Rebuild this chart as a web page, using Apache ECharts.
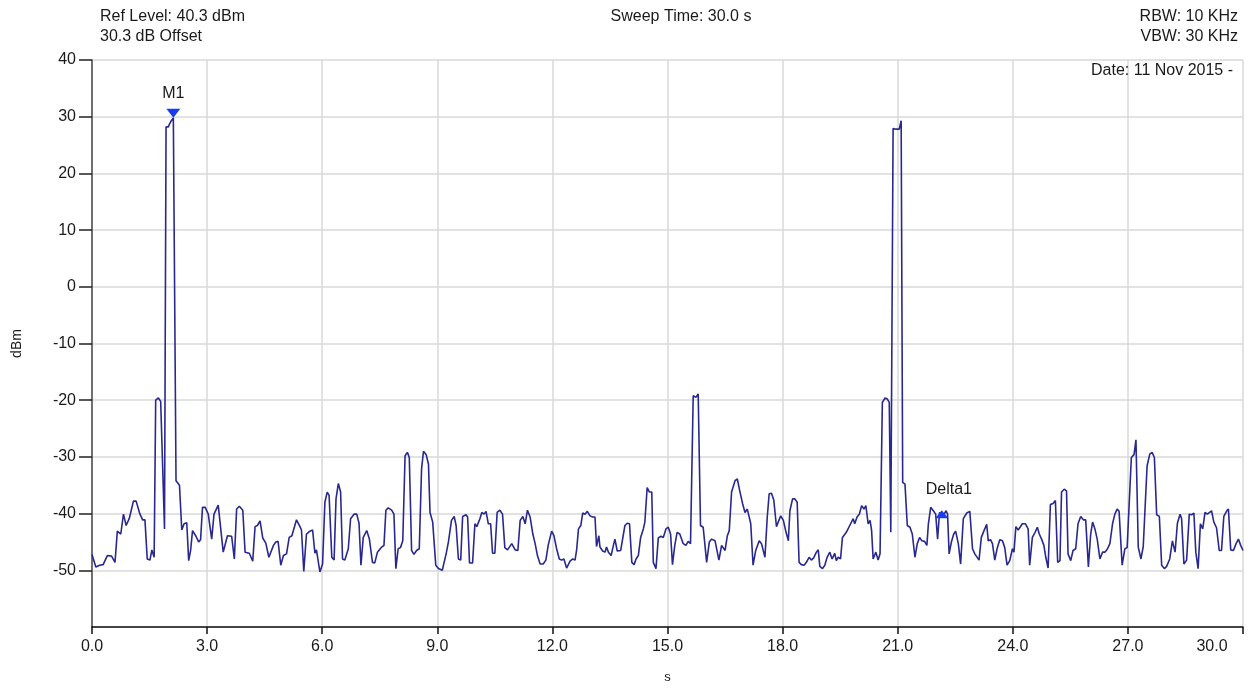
<!DOCTYPE html>
<html>
<head>
<meta charset="utf-8">
<script src="https://cdn.jsdelivr.net/npm/echarts@6/dist/echarts.min.js"></script>
<style>
  html, body { margin: 0; padding: 0; background: #fff; }
  #chart { width: 1251px; height: 689px; }
</style>
</head>
<body>
<div id="chart"></div>
<script>
// Sweep trace: time (s) and measured level (dBm)
const timeS = [
  0.00,0.10,0.20,0.29,0.40,0.51,0.60,0.66,0.75,0.82,0.89,0.97,1.08,1.15,1.25,1.32,1.38,1.44,1.51,1.56,
  1.62,1.66,1.73,1.79,1.84,1.89,1.93,1.99,2.02,2.06,2.12,2.19,2.28,2.34,2.40,2.47,2.52,2.57,2.62,2.71,
  2.78,2.83,2.88,2.95,3.03,3.12,3.18,3.29,3.42,3.47,3.53,3.64,3.71,3.77,3.84,3.93,3.99,4.10,4.19,4.25,
  4.31,4.38,4.45,4.53,4.61,4.66,4.73,4.79,4.85,4.92,4.99,5.07,5.14,5.21,5.33,5.42,5.46,5.52,5.59,5.68,
  5.75,5.81,5.85,5.94,6.01,6.07,6.13,6.18,6.25,6.31,6.36,6.42,6.48,6.53,6.59,6.68,6.74,6.83,6.90,6.96,
  7.01,7.07,7.16,7.23,7.31,7.37,7.44,7.55,7.61,7.66,7.72,7.81,7.87,7.92,7.98,8.04,8.10,8.16,8.22,8.27,
  8.33,8.39,8.46,8.53,8.59,8.64,8.71,8.77,8.81,8.88,8.96,9.03,9.07,9.13,9.23,9.29,9.37,9.44,9.49,9.55,
  9.61,9.66,9.75,9.79,9.84,9.92,9.98,10.03,10.11,10.16,10.22,10.27,10.33,10.39,10.44,10.50,10.56,10.63,10.70,10.76,
  10.83,10.94,10.98,11.03,11.10,11.16,11.23,11.29,11.35,11.42,11.49,11.55,11.61,11.68,11.76,11.83,11.89,11.98,12.04,12.11,
  12.18,12.24,12.30,12.37,12.46,12.53,12.59,12.63,12.68,12.74,12.79,12.85,12.91,12.98,13.05,13.11,13.15,13.21,13.24,13.31,
  13.37,13.41,13.46,13.53,13.59,13.63,13.69,13.78,13.83,13.89,13.95,14.01,14.07,14.13,14.18,14.24,14.30,14.37,14.41,14.47,
  14.53,14.59,14.63,14.70,14.76,14.83,14.89,14.96,15.02,15.08,15.13,15.19,15.25,15.32,15.41,15.48,15.54,15.60,15.67,15.74,
  15.80,15.86,15.93,16.02,16.09,16.15,16.24,16.28,16.34,16.41,16.45,16.50,16.56,16.61,16.67,16.76,16.82,16.89,16.96,17.02,
  17.08,17.13,17.17,17.23,17.30,17.39,17.45,17.54,17.60,17.65,17.71,17.77,17.84,17.89,17.95,18.02,18.09,18.15,18.19,18.26,
  18.32,18.38,18.43,18.49,18.56,18.62,18.69,18.75,18.81,18.88,18.93,18.97,19.04,19.10,19.16,19.23,19.29,19.36,19.40,19.45,
  19.51,19.56,19.66,19.75,19.84,19.88,19.94,20.00,20.06,20.12,20.17,20.23,20.28,20.32,20.36,20.43,20.49,20.54,20.60,20.67,
  20.73,20.78,20.82,20.88,20.96,21.04,21.09,21.13,21.19,21.25,21.32,21.38,21.45,21.51,21.57,21.63,21.70,21.76,21.80,21.86,
  21.93,21.99,22.04,22.09,22.15,22.21,22.26,22.30,22.34,22.40,22.46,22.51,22.58,22.64,22.71,22.80,22.88,22.95,23.01,23.05,
  23.12,23.18,23.25,23.32,23.36,23.42,23.47,23.53,23.59,23.66,23.73,23.79,23.85,23.92,23.99,24.03,24.08,24.14,24.18,24.25,
  24.33,24.40,24.44,24.51,24.58,24.64,24.69,24.75,24.81,24.86,24.92,24.98,25.05,25.11,25.17,25.23,25.27,25.34,25.40,25.44,
  25.51,25.57,25.64,25.70,25.77,25.84,25.90,25.97,26.03,26.08,26.14,26.20,26.27,26.34,26.40,26.47,26.53,26.60,26.66,26.72,
  26.77,26.85,26.92,26.98,27.03,27.09,27.16,27.21,27.24,27.27,27.34,27.40,27.44,27.50,27.57,27.63,27.69,27.75,27.82,27.88,
  27.95,28.01,28.09,28.16,28.23,28.29,28.36,28.40,28.46,28.53,28.60,28.66,28.72,28.77,28.83,28.89,28.95,29.01,29.07,29.12,
  29.18,29.24,29.31,29.38,29.44,29.50,29.57,29.62,29.68,29.75,29.82,29.88,29.94,30.00
];
const levelDbm = [
  -47.2,-49.4,-49.1,-49.0,-47.4,-47.5,-48.6,-43.1,-43.6,-40.1,-42.1,-40.9,-37.8,-37.8,-40.1,-41.1,-41.1,-48.0,-48.2,-46.4,
  -47.7,-20.0,-19.6,-20.2,-20.1,-42.7,28.2,28.2,28.7,29.2,29.8,-34.2,-35.0,-42.9,-41.8,-41.6,-48.3,-46.5,-43.0,-44.0,
  -45.0,-44.6,-38.9,-38.9,-40.1,-44.5,-40.1,-38.5,-46.8,-46.6,-43.9,-44.0,-48.0,-39.2,-38.7,-39.4,-46.8,-47.0,-48.4,-42.3,
  -42.1,-41.3,-44.3,-45.2,-47.7,-48.0,-45.6,-45.0,-44.9,-49.1,-47.4,-47.1,-44.2,-43.9,-41.1,-42.3,-42.9,-50.2,-43.6,-43.1,
  -42.9,-47.0,-46.4,-50.3,-48.9,-38.0,-36.2,-36.8,-47.7,-48.2,-37.4,-34.7,-36.2,-48.0,-48.2,-46.2,-40.9,-40.1,-40.1,-41.7,
  -49.1,-44.2,-43.0,-44.5,-48.6,-48.7,-46.8,-45.9,-45.6,-39.4,-39.0,-39.4,-40.1,-49.7,-46.2,-46.0,-44.8,-29.8,-29.2,-30.1,
  -46.5,-47.2,-46.5,-46.2,-32.1,-29.0,-29.6,-31.3,-39.8,-41.5,-49.1,-49.7,-49.4,-50.0,-47.1,-45.0,-41.2,-40.5,-42.1,-48.0,
  -48.2,-40.5,-40.2,-40.6,-48.7,-48.7,-41.8,-42.3,-40.9,-39.8,-40.1,-39.6,-41.8,-41.8,-47.0,-47.0,-39.8,-39.4,-40.1,-46.0,
  -46.4,-45.3,-45.0,-46.4,-46.5,-41.2,-40.5,-41.8,-39.4,-40.6,-43.6,-45.3,-47.4,-48.9,-48.9,-48.2,-45.6,-43.1,-43.9,-46.2,
  -48.0,-48.2,-48.0,-49.6,-48.4,-48.0,-48.2,-46.5,-42.7,-42.1,-39.9,-40.1,-39.6,-40.4,-40.6,-40.6,-45.8,-43.9,-45.9,-46.6,
  -46.8,-45.9,-46.8,-47.4,-45.6,-44.5,-46.6,-46.5,-46.5,-42.1,-41.7,-41.8,-48.6,-49.0,-48.0,-47.4,-44.2,-42.7,-41.5,-35.4,
  -36.2,-36.2,-48.6,-49.7,-44.3,-44.0,-44.2,-42.7,-42.4,-43.6,-49.0,-45.6,-43.3,-43.6,-45.3,-45.6,-44.9,-45.3,-19.2,-19.5,
  -18.9,-42.1,-42.4,-48.6,-45.0,-44.5,-44.8,-45.0,-48.2,-45.6,-45.3,-46.5,-43.9,-43.0,-36.2,-34.2,-33.9,-36.2,-38.3,-39.8,
  -39.2,-39.5,-41.8,-49.1,-46.5,-44.8,-45.3,-47.7,-40.6,-36.5,-36.4,-37.6,-42.3,-42.4,-40.4,-41.2,-43.3,-44.8,-39.5,-37.4,
  -37.4,-38.0,-48.6,-49.0,-49.1,-48.6,-47.7,-48.2,-47.8,-46.8,-46.4,-49.3,-49.7,-49.1,-47.7,-46.8,-48.0,-47.0,-48.3,-47.7,
  -48.0,-44.2,-43.3,-42.1,-40.9,-41.8,-40.6,-40.1,-38.6,-39.2,-38.6,-41.8,-41.2,-43.0,-48.0,-46.8,-48.2,-47.1,-20.4,-19.6,
  -19.8,-20.4,-43.3,27.9,27.8,27.8,29.3,-34.5,-34.8,-42.1,-42.4,-43.6,-47.7,-45.3,-44.2,-44.8,-44.9,-45.6,-41.8,-38.9,
  -39.5,-40.1,-44.5,-39.8,-40.1,-40.1,-39.5,-40.1,-47.1,-45.0,-43.6,-43.1,-45.3,-48.9,-40.9,-39.9,-39.6,-46.2,-47.1,-46.8,
  -48.2,-44.2,-43.0,-41.9,-44.8,-44.6,-45.3,-48.2,-46.2,-44.6,-44.8,-46.0,-49.1,-48.3,-46.2,-46.8,-42.3,-42.9,-42.5,-41.8,
  -41.8,-42.7,-49.1,-44.2,-43.3,-42.4,-43.6,-44.5,-45.6,-47.7,-49.6,-38.4,-38.2,-37.7,-48.6,-48.3,-36.2,-35.7,-36.0,-47.1,
  -48.3,-46.5,-46.2,-41.8,-40.5,-41.1,-41.1,-49.4,-43.6,-41.5,-42.7,-44.5,-48.0,-46.8,-46.8,-46.2,-45.3,-41.8,-40.1,-39.2,
  -39.6,-49.1,-46.2,-46.0,-46.2,-30.1,-29.6,-27.0,-27.2,-45.9,-48.0,-45.8,-45.8,-31.6,-29.5,-29.2,-30.1,-40.2,-40.5,-49.1,
  -49.7,-49.3,-48.0,-44.8,-46.8,-41.7,-40.1,-40.9,-48.9,-48.2,-40.1,-40.2,-39.9,-46.8,-49.7,-41.8,-42.7,-39.8,-40.1,-40.1,
  -39.5,-41.5,-42.5,-46.5,-46.5,-40.5,-39.6,-39.2,-46.4,-46.5,-45.3,-44.5,-45.6,-46.5
];

// Markers placed on the trace: name, time (s), level (dBm)
const markerNames = ['M1', 'Delta1'];
const markerTimes = [2.12, 22.15];
const markerLevels = [29.8, -40.1];

// Instrument settings shown in the header
const headerLeft = ['Ref Level: 40.3 dBm', '30.3 dB Offset'];
const headerCenter = 'Sweep Time: 30.0 s';
const headerRight = ['RBW: 10 KHz', 'VBW: 30 KHz'];
const dateText = 'Date: 11 Nov 2015 -';

const FONT = '"Liberation Sans", Arial, Helvetica, sans-serif';
const TEXT = '#1a1a1a';
const TRACE = '#28288f';
const MARK = '#1a3cf0';

const trace = timeS.map((t, i) => [t, levelDbm[i]]);

const chart = echarts.init(document.getElementById('chart'), null, { renderer: 'canvas' });

const markData = markerNames.map((n, i) => {
  const down = i === 0;
  return {
    name: n,
    coord: [markerTimes[i], markerLevels[i]],
    symbol: 'triangle',
    symbolRotate: down ? 180 : 0,
    symbolSize: down ? [14, 9] : [13, 8],
    symbolOffset: down ? [0, -4.5] : [0, 0],
    itemStyle: { color: MARK },
    label: {
      show: true,
      formatter: n,
      position: 'top',
      distance: down ? 7 : 13,
      offset: down ? [0, 0] : [7, 0],
      color: TEXT,
      fontFamily: FONT,
      fontSize: 16
    }
  };
});

const option = {
  animation: false,
  backgroundColor: '#ffffff',
  grid: { left: 92, right: 8, top: 60, bottom: 59, containLabel: false },
  xAxis: {
    type: 'value',
    min: 0, max: 30, interval: 3,
    name: 's',
    nameLocation: 'middle',
    nameGap: 44,
    nameTextStyle: { color: TEXT, fontFamily: FONT, fontSize: 13 },
    axisLine: { show: true, onZero: false, lineStyle: { color: '#111', width: 1.5 } },
    axisTick: { show: true, length: 7, lineStyle: { color: '#111', width: 1.5 } },
    axisLabel: {
      margin: 12, color: TEXT, fontFamily: FONT, fontSize: 16,
      formatter: v => v === 30 ? '{last|30.0}' : v.toFixed(1),
      rich: { last: { color: TEXT, fontFamily: FONT, fontSize: 16, padding: [0, 62, 0, 0] } }
    },
    splitLine: { show: true, lineStyle: { color: '#d9d9d9', width: 1.5 } }
  },
  yAxis: {
    type: 'value',
    min: -60, max: 40, interval: 10,
    name: 'dBm',
    nameLocation: 'middle',
    nameRotate: 90,
    nameGap: 68,
    nameTextStyle: { color: TEXT, fontFamily: FONT, fontSize: 14 },
    axisLine: { show: true, onZero: false, lineStyle: { color: '#4a4a4a', width: 1.5 } },
    axisTick: { show: true, length: 13, lineStyle: { color: '#222', width: 1.5 } },
    axisLabel: { margin: 16, showMinLabel: false, color: TEXT, fontFamily: FONT, fontSize: 16 },
    splitLine: { show: true, lineStyle: { color: '#d9d9d9', width: 1.5 } }
  },
  graphic: [
    { type: 'text', left: 100, top: 9, style: { text: headerLeft[0], fill: TEXT, font: '16px ' + FONT } },
    { type: 'text', left: 100, top: 29, style: { text: headerLeft[1], fill: TEXT, font: '16px ' + FONT } },
    { type: 'text', x: 681, y: 9, style: { text: headerCenter, fill: TEXT, font: '16px ' + FONT, textAlign: 'center' } },
    { type: 'text', x: 1238, y: 9, style: { text: headerRight[0], fill: TEXT, font: '16px ' + FONT, textAlign: 'right' } },
    { type: 'text', x: 1238, y: 29, style: { text: headerRight[1], fill: TEXT, font: '16px ' + FONT, textAlign: 'right' } },
    { type: 'text', x: 1233, y: 63, z: 10, style: { text: dateText, fill: TEXT, font: '16px ' + FONT, textAlign: 'right' } }
  ],
  series: [{
    type: 'line',
    data: trace,
    showSymbol: false,
    symbol: 'none',
    lineStyle: { color: TRACE, width: 1.6 },
    markPoint: { data: markData, animation: false }
  }]
};

chart.setOption(option);
</script>
</body>
</html>
